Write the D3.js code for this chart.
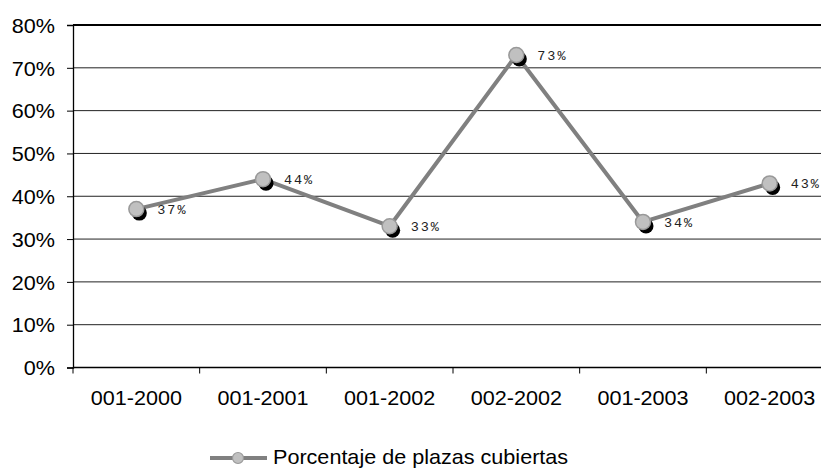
<!DOCTYPE html>
<html>
<head>
<meta charset="utf-8">
<script src="https://cdn.jsdelivr.net/npm/d3@7/dist/d3.min.js"></script>
<style>
  html, body { margin: 0; padding: 0; background: #fff; }
  svg { display: block; }
</style>
</head>
<body>
<svg id="chart" width="821" height="468"></svg>
<script>
// Periods and share of covered places
const periods = ["001-2000", "001-2001", "001-2002", "002-2002", "001-2003", "002-2003"];
const coverage = [0.37, 0.44, 0.33, 0.73, 0.34, 0.43];
const yTicks = [0, 0.1, 0.2, 0.3, 0.4, 0.5, 0.6, 0.7, 0.8];
const seriesName = "Porcentaje de plazas cubiertas";

const svg = d3.select("#chart");
const plot = { left: 73, right: 833, top: 25, bottom: 367.5 };

const x = d3.scaleBand().domain(periods).range([plot.left, plot.right]).padding(0);
const y = d3.scaleLinear().domain([0, 0.8]).range([plot.bottom, plot.top]);

const axisFont = "'Liberation Sans', Arial, sans-serif";
const fontSize = 20;
const stretch = 1.08; // text is set slightly wide

// place a text at (px, py) with the horizontal stretch applied around its anchor
function placeText(sel, px, py) {
  return sel.attr("x", 0).attr("y", 0)
    .attr("transform", (d, i) => `translate(${px(d, i)},${py(d, i)}) scale(${stretch},1)`);
}

// horizontal gridlines
svg.append("g")
  .selectAll("line")
  .data(yTicks.filter(t => t > 0))
  .join("line")
  .attr("x1", plot.left).attr("x2", plot.right)
  .attr("y1", d => y(d)).attr("y2", d => y(d))
  .attr("stroke", d => d === 0.8 ? "#000" : "#222")
  .attr("stroke-width", d => d === 0.8 ? 2 : 1);

// y axis
const yAxis = d3.axisLeft(y)
  .tickValues(yTicks)
  .tickFormat(d3.format(".0%"))
  .tickSize(6)
  .tickPadding(12);
const gy = svg.append("g").attr("transform", `translate(${plot.left},0)`).call(yAxis);
gy.select(".domain").attr("stroke", "#000").attr("stroke-width", 1.3);
gy.selectAll(".tick line").attr("stroke", "#000").attr("stroke-width", 1);
gy.selectAll(".tick text")
  .attr("font-family", axisFont).attr("font-size", fontSize).attr("fill", "#000")
  .attr("x", 0).attr("dy", null)
  .attr("dominant-baseline", "central")
  .attr("transform", `translate(-18,0) scale(${stretch},1)`);

// x axis: ticks sit on category boundaries
const gx = svg.append("g").attr("transform", `translate(0,${plot.bottom})`);
gx.append("line")
  .attr("x1", plot.left).attr("x2", plot.right)
  .attr("stroke", "#000").attr("stroke-width", 1.5);
const bounds = periods.map(p => x(p)).concat([x(periods[periods.length - 1]) + x.bandwidth()]);
gx.selectAll("line.tick")
  .data(bounds)
  .join("line")
  .attr("class", "tick")
  .attr("x1", d => d).attr("x2", d => d)
  .attr("y1", 0).attr("y2", 6)
  .attr("stroke", "#000").attr("stroke-width", 1);
gx.selectAll("text")
  .data(periods)
  .join("text")
  .call(placeText, d => x(d) + x.bandwidth() / 2, () => 37.5)
  .attr("text-anchor", "middle")
  .attr("font-family", axisFont).attr("font-size", fontSize).attr("fill", "#000")
  .text(d => d);

const cx = (d, i) => x(periods[i]) + x.bandwidth() / 2;

// series line
const line = d3.line().x((d, i) => cx(d, i)).y(d => y(d));
svg.append("path")
  .datum(coverage)
  .attr("d", line)
  .attr("fill", "none")
  .attr("stroke", "#808080")
  .attr("stroke-width", 4)
  .attr("stroke-linejoin", "round");

// markers with drop shadow
const markers = svg.append("g");
markers.selectAll("circle.shadow")
  .data(coverage)
  .join("circle")
  .attr("class", "shadow")
  .attr("cx", (d, i) => cx(d, i) + 3)
  .attr("cy", d => y(d) + 4)
  .attr("r", 7.5)
  .attr("fill", "#000");
markers.selectAll("circle.dot")
  .data(coverage)
  .join("circle")
  .attr("class", "dot")
  .attr("cx", (d, i) => cx(d, i))
  .attr("cy", d => y(d))
  .attr("r", 7.5)
  .attr("fill", "#c0c0c0")
  .attr("stroke", "#999")
  .attr("stroke-width", 1.5);

// value labels
svg.append("g")
  .selectAll("text")
  .data(coverage)
  .join("text")
  .call(placeText, (d, i) => cx(d, i) + 21, d => y(d) + 1.5)
  .attr("dominant-baseline", "central")
  .attr("font-family", "'Liberation Mono', 'Courier New', monospace")
  .attr("font-size", 12.5)
  .attr("letter-spacing", 1.8)
  .attr("fill", "#222")
  .text(d => d3.format(".0%")(d));

// legend
const lg = svg.append("g").attr("transform", "translate(210,458)");
lg.append("line")
  .attr("x1", 0).attr("x2", 57)
  .attr("stroke", "#808080").attr("stroke-width", 4);
lg.append("circle")
  .attr("cx", 28).attr("cy", 0).attr("r", 5.5)
  .attr("fill", "#c0c0c0").attr("stroke", "#999").attr("stroke-width", 1.2);
lg.append("text")
  .datum(seriesName)
  .call(placeText, () => 63, () => 5.5)
  .attr("font-family", axisFont).attr("font-size", fontSize).attr("fill", "#000")
  .text(d => d);
</script>
</body>
</html>
